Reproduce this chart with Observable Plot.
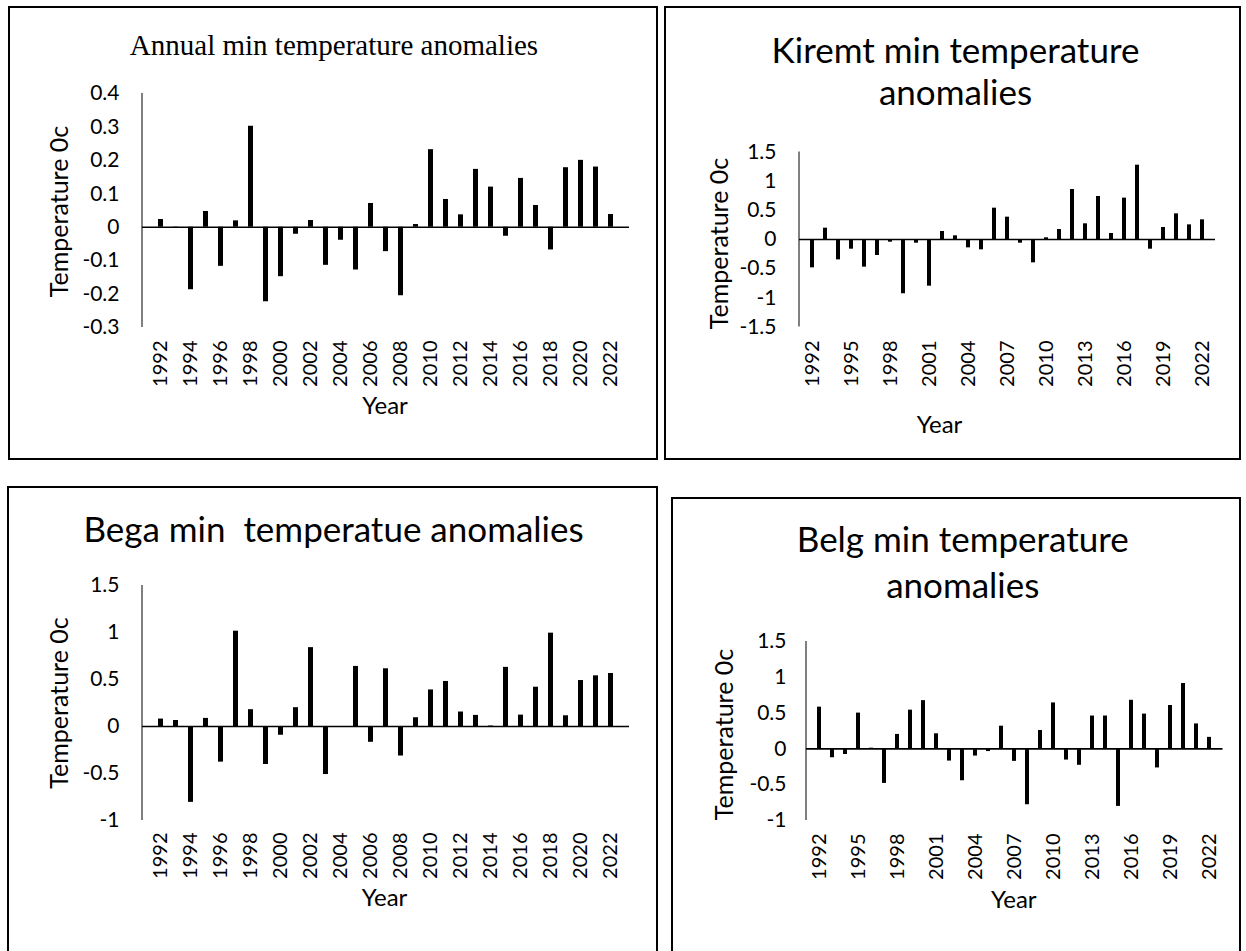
<!DOCTYPE html>
<html><head><meta charset="utf-8">
<script src="https://cdn.jsdelivr.net/npm/d3@7"></script>
<script src="https://cdn.jsdelivr.net/npm/@observablehq/plot@0.6"></script>
<style>
html,body{margin:0;padding:0;background:#fff;}
#root{position:relative;width:1246px;height:951px;overflow:hidden;background:#fff;}
.panel{position:absolute;}
.panel svg{position:absolute;left:0;top:0;overflow:visible;}
.border{position:absolute;left:0;top:0;right:0;bottom:0;border:2px solid #000;box-sizing:border-box;pointer-events:none;}
svg text{white-space:pre;}
</style></head><body><div id="root"></div><script>
// ---- data ----
const years = [1992,1993,1994,1995,1996,1997,1998,1999,2000,2001,2002,2003,2004,2005,2006,2007,2008,2009,2010,2011,2012,2013,2014,2015,2016,2017,2018,2019,2020,2021,2022];
const annualValues = [0.023,-0.002,-0.187,0.047,-0.117,0.019,0.302,-0.223,-0.148,-0.021,0.02,-0.114,-0.039,-0.128,0.071,-0.073,-0.205,0.008,0.232,0.083,0.037,0.173,0.12,-0.027,0.146,0.065,-0.068,0.178,0.2,0.18,0.038];
const kiremtValues = [-0.486,0.194,-0.349,-0.166,-0.474,-0.274,-0.046,-0.93,-0.063,-0.8,0.137,0.063,-0.143,-0.177,0.537,0.383,-0.063,-0.4,0.029,0.171,0.857,0.269,0.737,0.103,0.709,1.274,-0.166,0.206,0.44,0.251,0.337];
const begaValues = [0.079,0.064,-0.807,0.086,-0.379,1.014,0.179,-0.404,-0.093,0.2,0.839,-0.511,-0.003,0.639,-0.168,0.614,-0.314,0.093,0.389,0.479,0.154,0.118,0.005,0.629,0.121,0.418,0.993,0.114,0.489,0.539,0.564];
const belgValues = [0.583,-0.124,-0.078,0.5,0.01,-0.482,0.202,0.541,0.674,0.211,-0.17,-0.445,-0.1,-0.037,0.317,-0.174,-0.78,0.257,0.642,-0.156,-0.229,0.459,0.459,-0.803,0.679,0.486,-0.266,0.606,0.913,0.349,0.161];
const annualTicks = [0.4,0.3,0.2,0.1,0,-0.1,-0.2,-0.3];
const kiremtTicks = [1.5,1,0.5,0,-0.5,-1,-1.5];
const begaTicks = [1.5,1,0.5,0,-0.5,-1];
const belgTicks = [1.5,1,0.5,0,-0.5,-1];
const yearTicksEvery2 = [1992,1994,1996,1998,2000,2002,2004,2006,2008,2010,2012,2014,2016,2018,2020,2022];
const yearTicksEvery3 = [1992,1995,1998,2001,2004,2007,2010,2013,2016,2019,2022];
const titles = {
  annual: "Annual min temperature anomalies",
  kiremt: "Kiremt min temperature\nanomalies",
  bega: "Bega min  temperatue anomalies",
  belg: "Belg min temperature\nanomalies"
};
const xLabel = "Year";
const yLabel = "Temperature 0c";

// ---- layout ----
const panels = [
  {key:"annual", values: annualValues, yTicks: annualTicks, yDomain:[-0.3,0.4], xTicks: yearTicksEvery2,
   box:{left:8, top:6, width:650, height:454}, m:{l:134, r:29, t:87, b:133},
   title:{font:"Liberation Serif", size:29, dx:-52, dy:-39, lh:1},
   tickPad:23, xPad:13, year:{dx:-1, dy:86}, ytitle:{dx:-83, dy:1}},
  {key:"kiremt", values: kiremtValues, yTicks: kiremtTicks, yDomain:[-1.5,1.5], xTicks: yearTicksEvery3,
   box:{left:664, top:6, width:577, height:454}, m:{l:135, r:26, t:145.5, b:133.5},
   title:{font:"Lato", size:35, dx:-52, dy:-47.5, lh:1.2},
   tickPad:23, xPad:13.5, year:{dx:-68, dy:105.5}, ytitle:{dx:-80, dy:4}},
  {key:"bega", values: begaValues, yTicks: begaTicks, yDomain:[-1,1.5], xTicks: yearTicksEvery2,
   box:{left:7, top:486, width:651, height:470}, m:{l:135, r:29, t:99, b:136},
   title:{font:"Lato", size:35, dx:-52.5, dy:-44, lh:1},
   tickPad:23, xPad:12, year:{dx:-1.5, dy:85}, ytitle:{dx:-83, dy:0}},
  {key:"belg", values: belgValues, yTicks: belgTicks, yDomain:[-1,1.5], xTicks: yearTicksEvery3,
   box:{left:671, top:497, width:570, height:459}, m:{l:135, r:18.5, t:144, b:136},
   title:{font:"Lato", size:35, dx:-52, dy:-44, lh:1.29},
   tickPad:20, xPad:13, year:{dx:-1, dy:87}, ytitle:{dx:-82, dy:3.5}}
];

function yAxisLine(index, scales, values, dims) {
  const l = document.createElementNS("http://www.w3.org/2000/svg", "line");
  const x = dims.marginLeft;
  l.setAttribute("x1", x); l.setAttribute("x2", x);
  l.setAttribute("y1", dims.marginTop); l.setAttribute("y2", dims.height - dims.marginBottom);
  l.setAttribute("stroke", "#000"); l.setAttribute("stroke-width", 1);
  return l;
}

const root = document.getElementById("root");
for (const p of panels) {
  const data = years.map((year, i) => ({year, value: p.values[i]}));
  const chart = Plot.plot({
    width: p.box.width, height: p.box.height,
    marginLeft: p.m.l, marginRight: p.m.r, marginTop: p.m.t, marginBottom: p.m.b,
    x: {type: "band", domain: years, paddingInner: 0.66, paddingOuter: 0.33},
    y: {domain: p.yDomain},
    style: {fontFamily: "Lato", fontSize: "20px", color: "#000", background: "transparent", overflow: "visible"},
    marks: [
      Plot.barY(data, {x: "year", y: "value", fill: "#000"}),
      Plot.ruleY([0], {stroke: "#000", strokeWidth: 1.6}),
      yAxisLine,
      Plot.axisY({ticks: p.yTicks, tickSize: 0, tickPadding: p.tickPad, tickFormat: d => String(d), label: null, fontSize: 21}),
      Plot.axisX({ticks: p.xTicks, tickSize: 0, tickPadding: p.xPad, tickRotate: -90, tickFormat: d => String(d), label: null, fontSize: 20}),
      Plot.text([titles[p.key]], {text: d => d, frameAnchor: "top", textAnchor: "middle", dx: p.title.dx, dy: p.title.dy, lineAnchor: "bottom", lineHeight: p.title.lh, fontFamily: p.title.font, fontSize: p.title.size, fill: "#000"}),
      Plot.text([xLabel], {text: d => d, frameAnchor: "bottom", textAnchor: "middle", dx: p.year.dx, dy: p.year.dy, fontSize: 24, fill: "#000"}),
      Plot.text([yLabel], {text: d => d, frameAnchor: "left", textAnchor: "middle", dx: p.ytitle.dx, dy: p.ytitle.dy, rotate: -90, fontSize: 25, fill: "#000"})
    ]
  });
  const div = document.createElement("div");
  div.className = "panel";
  Object.assign(div.style, {left: p.box.left + "px", top: p.box.top + "px", width: p.box.width + "px", height: p.box.height + "px"});
  div.appendChild(chart);
  const border = document.createElement("div");
  border.className = "border";
  div.appendChild(border);
  root.appendChild(div);
}
</script></body></html>
